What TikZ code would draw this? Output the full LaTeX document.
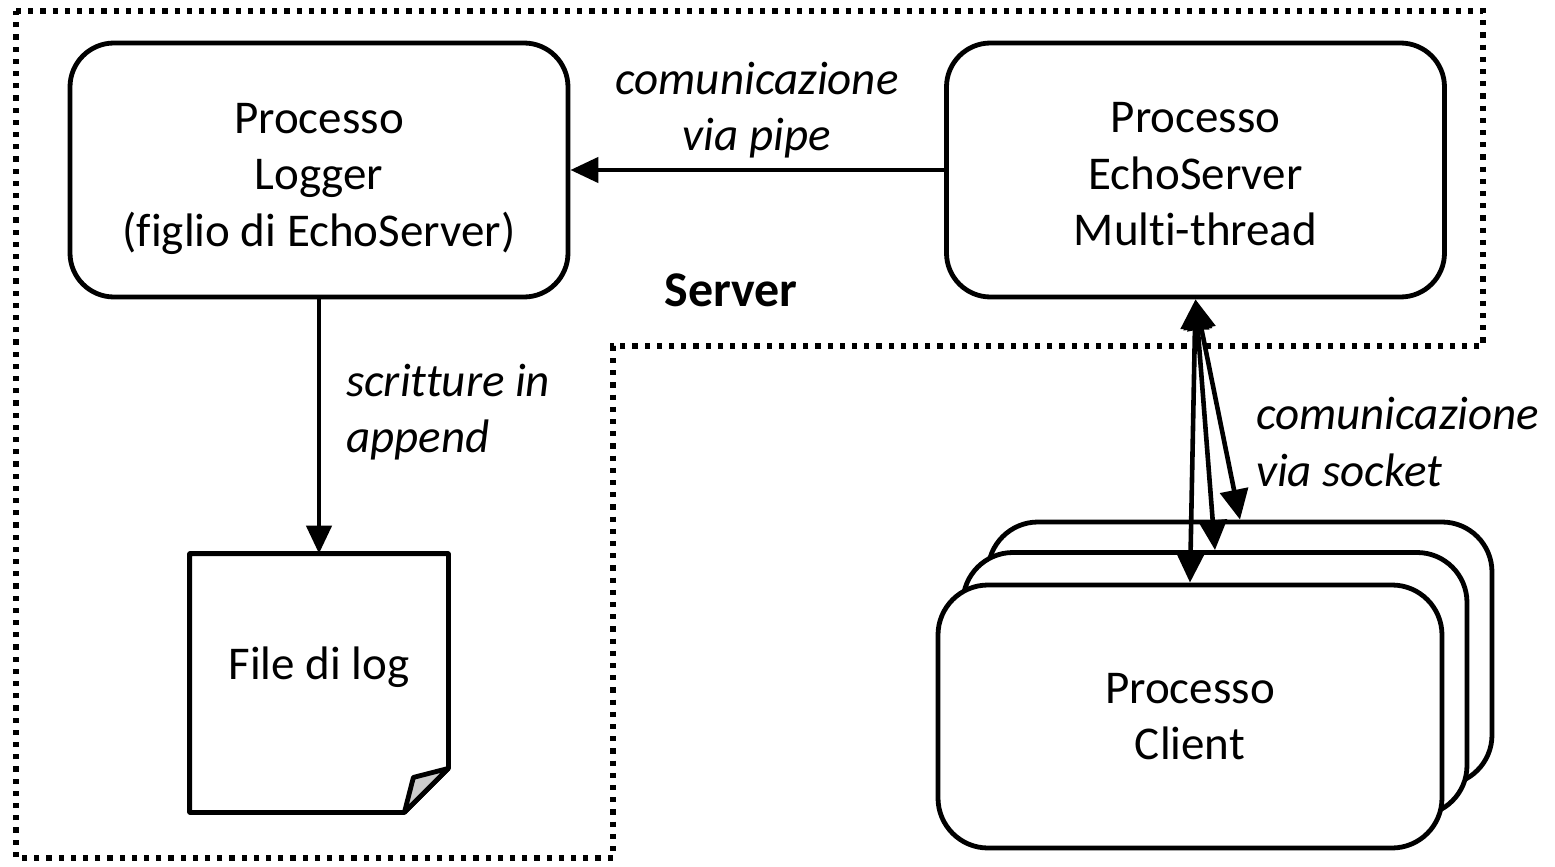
\documentclass[tikz,border=0pt]{standalone}
\usepackage{fontspec}
\setmainfont{Carlito}[Ligatures=NoCommon]
\usetikzlibrary{arrows.meta,calc}

\begin{document}
\begin{tikzpicture}[x=0.5pt, y=-0.5pt,
    proc/.style={draw, line width=2.4pt, rounded corners=22pt, fill=white,
        minimum width=249pt, minimum height=127pt},
    client/.style={proc, minimum width=252pt, minimum height=131.5pt, rounded corners=25pt},
    boxtext/.style={align=center, font=\fontsize{23.5}{28.25}\selectfont},
    lbl/.style={font=\fontsize{23.5}{28.25}\selectfont\itshape},
    arr/.style={line width=2.3pt, -{Triangle[length=14pt, width=12.5pt]}},
    arrboth/.style={line width=2.3pt, {Triangle[length=15pt, width=14pt]}-{Triangle[length=15pt, width=14pt]}},
    zone/.style={line width=2.6pt, dash pattern=on 2.6pt off 3.5pt}]

    \useasboundingbox (0,0) rectangle (1555,867);

    % Server area
    \draw[zone] (16,11) -- (1483,11) -- (1483,346) -- (613,346) -- (613,858) -- (16,858) -- cycle;
    \node[font=\fontsize{25}{30}\selectfont\bfseries, anchor=base] (srv) at (731,306) {Server};

    % Processes
    \node[proc, label={[boxtext, yshift=-4.25pt]center:Processo\\Logger\\(figlio di EchoServer)}] (logger) at (319,170) {};
    \node[proc, label={[boxtext, yshift=-2.25pt]center:Processo\\EchoServer\\Multi-thread}] (echo) at (1195.5,170) {};

    % Log file
    \node[minimum width=129pt, minimum height=129pt, inner sep=0pt] (logfile) at (319,683) {};
    \draw[line width=2.4pt, line join=round] (logfile.north west) -- (logfile.north east)
        -- ($(logfile.south east)+(0pt,22pt)$) -- ($(logfile.south east)+(-22pt,0pt)$)
        -- (logfile.south west) -- cycle;
    \draw[line width=2.4pt, line join=round, fill=black!20] ($(logfile.south east)+(-22pt,0pt)$)
        -- ($(logfile.south east)+(-17.5pt,17.5pt)$) -- ($(logfile.south east)+(0pt,22pt)$) -- cycle;
    \node[boxtext] (logtxt) at ($(logfile.center)+(0pt,8pt)$) {File di log};

    % Clients
    \foreach \i/\x/\y in {3/1240/653.5,2/1215/684} {
        \node[client] (client\i) at (\x,\y) {};
    }
    \node[client, boxtext] (client1) at (1190,716.5) {Processo\\Client};

    % Connections
    \draw[arr] (echo.west) -- (logger.east);
    \draw[arr] (logger.south) -- (logfile.north);
    \foreach \i in {1,2,3} { \draw[arrboth] (echo.south) -- (client\i.north); }

    % Labels
    \node[lbl, align=center] (pipelbl) at (757,110) {comunicazione\\via pipe};
    \node[lbl, align=left, anchor=west] (applbl) at (339,412) {scritture in\\append};
    \node[lbl, align=left, anchor=west] (socklbl) at (1249,442) {comunicazione\\via socket};
\end{tikzpicture}
\end{document}
